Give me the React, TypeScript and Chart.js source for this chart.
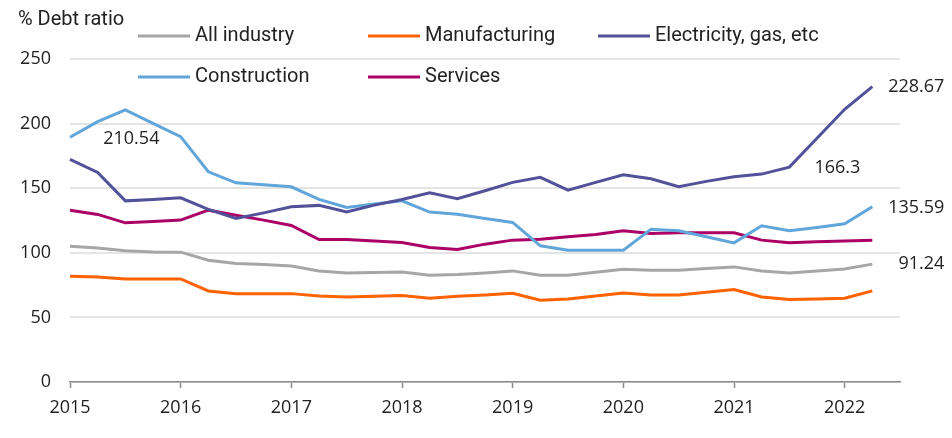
import { useEffect, useRef } from 'react';
import { Chart, registerables } from 'chart.js';

Chart.register(...registerables);

const years = [2015, 2016, 2017, 2018, 2019, 2020, 2021, 2022];
const quarters = ['Q1', 'Q2', 'Q3', 'Q4'];
// quarterly categories, 2015 Q1 .. 2022 Q3 (last one is empty space at the end of the axis)
const periods = years.flatMap((y) => quarters.map((q) => `${y} ${q}`)).slice(0, 31);

const allIndustry = [105.1, 103.8, 101.5, 100.7, 100.5, 94.3, 91.7, 90.9, 89.8, 86.0, 84.4, 84.7, 85.2, 82.6, 83.2, 84.4, 86.0, 82.6, 82.6, 85.0, 87.3, 86.5, 86.5, 87.8, 89.1, 86.0, 84.4, 86.0, 87.5, 91.24];
const manufacturing = [81.9, 81.3, 79.8, 79.8, 79.8, 70.5, 68.4, 68.4, 68.4, 66.6, 65.8, 66.4, 66.9, 64.8, 66.4, 67.4, 68.7, 63.3, 64.3, 66.6, 68.9, 67.4, 67.4, 69.5, 71.5, 65.8, 63.8, 64.3, 64.8, 70.5];
const electricity = [172.3, 162.2, 140.2, 141.3, 142.6, 133.6, 126.6, 130.9, 135.6, 136.7, 131.7, 136.9, 141.3, 146.4, 141.8, 148.0, 154.5, 158.4, 148.5, 154.5, 160.4, 157.3, 151.1, 155.3, 158.8, 160.9, 166.3, 188.6, 211.1, 228.67];
const construction = [189.4, 201.5, 210.54, 200.2, 189.9, 162.7, 154.2, 152.7, 151.1, 141.3, 135.1, 137.7, 140.2, 131.5, 129.9, 126.6, 123.5, 105.4, 102.0, 102.0, 102.0, 118.3, 117.0, 112.4, 107.7, 120.9, 117.0, 119.6, 122.4, 135.59];
const services = [133.0, 129.7, 123.2, 124.3, 125.3, 133.0, 129.1, 125.3, 121.2, 110.3, 110.3, 109.2, 108.0, 104.1, 102.6, 106.7, 109.8, 110.5, 112.4, 114.2, 117.0, 115.0, 115.5, 115.5, 115.5, 109.8, 107.7, 108.5, 109.2, 109.8];

const seriesNames = ['All industry', 'Manufacturing', 'Electricity, gas, etc', 'Construction', 'Services'];
const seriesColors = ['#a6a6a6', '#ff6200', '#525199', '#60a6da', '#ab0066'];

// [dataset index, point index, dx, dy, align]
const callouts: [number, number, number, number, CanvasTextAlign][] = [
  [3, 2, 6, 29, 'center'],
  [2, 26, 48, 1, 'center'],
  [2, 29, 72, 0, 'right'],
  [3, 29, 72, 1, 'right'],
  [0, 29, 72, 0, 'right'],
];

const tickFont = "'Open Sans', sans-serif";
const legendFont = "Roboto, sans-serif";

const overlay = {
  id: 'overlay',
  afterDraw(chart: any) {
    const ctx = chart.ctx;
    ctx.save();
    // y title
    ctx.fillStyle = '#222';
    ctx.font = `20px ${legendFont}`;
    ctx.textBaseline = 'middle';
    ctx.textAlign = 'left';
    ctx.fillText('% Debt ratio', 18, 20);
    // legend
    const cols = [138, 368, 598];
    const rows = [36, 77];
    seriesNames.forEach((name, i) => {
      const x = cols[i % 3];
      const y = rows[Math.floor(i / 3)];
      ctx.strokeStyle = seriesColors[i];
      ctx.lineWidth = 3;
      ctx.beginPath();
      ctx.moveTo(x, y);
      ctx.lineTo(x + 52, y);
      ctx.stroke();
      ctx.fillStyle = '#222';
      ctx.fillText(name, x + 57, y);
    });
    // value callouts
    ctx.font = `18px ${tickFont}`;
    callouts.forEach(([ds, idx, dx, dy, align]) => {
      const pt = chart.getDatasetMeta(ds).data[idx];
      const v = chart.data.datasets[ds].data[idx];
      ctx.textAlign = align;
      ctx.fillText(String(v), pt.x + dx, pt.y + dy);
    });
    ctx.restore();
  },
};

export default function App() {
  const canvasRef = useRef<HTMLCanvasElement | null>(null);

  useEffect(() => {
    if (!canvasRef.current) return;
    const values = [allIndustry, manufacturing, electricity, construction, services];
    const chart = new Chart(canvasRef.current, {
      type: 'line',
      data: {
        labels: periods,
        datasets: values.map((d, i) => ({
          label: seriesNames[i],
          data: d,
          borderColor: seriesColors[i],
          backgroundColor: seriesColors[i],
          borderWidth: 3,
          pointRadius: 0,
          tension: 0,
        })),
      },
      options: {
        responsive: true,
        maintainAspectRatio: false,
        animation: false,
        layout: { padding: { top: 59, right: 52, left: 0, bottom: 0 } },
        plugins: {
          legend: { display: false },
          tooltip: { enabled: false },
        },
        scales: {
          x: {
            type: 'category',
            offset: false,
            afterFit: (s: any) => { s.height = 56; },
            border: { display: true, color: '#8a8a8a', width: 1.5 },
            grid: {
              display: true,
              drawOnChartArea: false,
              drawTicks: true,
              tickLength: 6,
              tickWidth: 1.5,
              tickColor: (c: any) => (c.index % 4 === 0 ? '#8a8a8a' : 'rgba(0,0,0,0)'),
            },
            ticks: {
              autoSkip: false,
              maxRotation: 0,
              padding: 9,
              color: '#222',
              font: { family: tickFont, size: 18 },
              callback: function (this: any, val: any, index: number) {
                return index % 4 === 0 ? String(this.getLabelForValue(val)).slice(0, 4) : '';
              },
            },
          },
          y: {
            min: 0,
            max: 250,
            afterFit: (s: any) => { s.width = 70; },
            border: { display: false },
            grid: { color: '#e4e4e4', lineWidth: 2, drawTicks: false },
            ticks: {
              stepSize: 50,
              padding: 19,
              color: '#222',
              font: { family: tickFont, size: 18 },
            },
          },
        },
      },
      plugins: [overlay],
    });
    return () => chart.destroy();
  }, []);

  return (
    <div style={{ position: 'fixed', left: 0, top: 0, width: 952, height: 438, background: '#fff' }}>
      <canvas ref={canvasRef}></canvas>
    </div>
  );
}
